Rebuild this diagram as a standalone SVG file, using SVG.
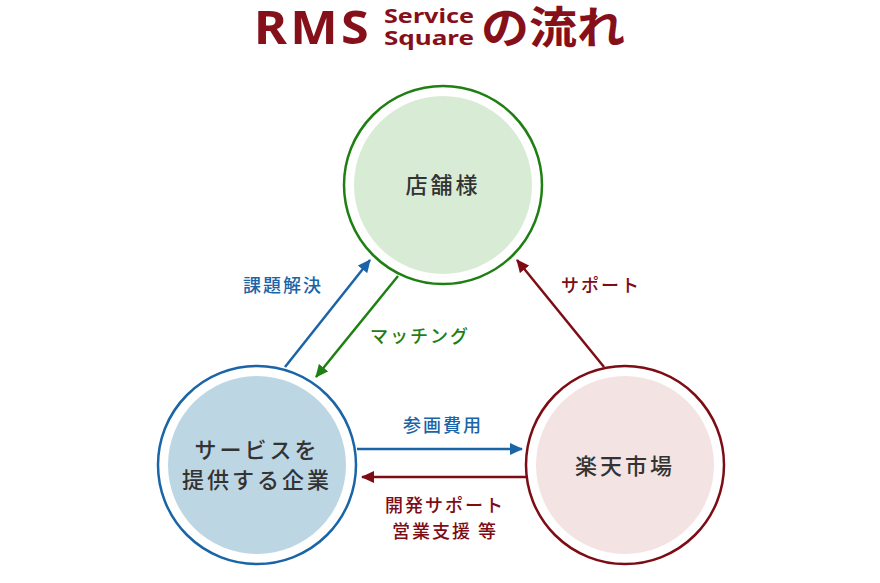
<svg xmlns="http://www.w3.org/2000/svg" width="880" height="583" viewBox="0 0 880 583">
<style>
.t{font-family:"Noto Sans CJK JP","Noto Sans",sans-serif;}
.lbl{font-family:"Noto Sans CJK JP",sans-serif;font-size:18px;font-weight:500;letter-spacing:2px;text-anchor:middle}
.nd{font-family:"Noto Sans CJK JP",sans-serif;font-size:22px;font-weight:500;fill:#333;letter-spacing:3px;text-anchor:middle}
</style>
<defs>
<marker id="ab" markerWidth="13" markerHeight="12" refX="12" refY="6" orient="auto" markerUnits="userSpaceOnUse" viewBox="0 0 13 12"><path d="M0,0L13,6L0,12z" fill="#1a64a8"/></marker>
<marker id="ar" markerWidth="13" markerHeight="12" refX="12" refY="6" orient="auto" markerUnits="userSpaceOnUse" viewBox="0 0 13 12"><path d="M0,0L13,6L0,12z" fill="#7d0c14"/></marker>
<marker id="ag" markerWidth="13" markerHeight="12" refX="12" refY="6" orient="auto" markerUnits="userSpaceOnUse" viewBox="0 0 13 12"><path d="M0,0L13,6L0,12z" fill="#1e8013"/></marker>
</defs>
<rect width="880" height="583" fill="#fff"/>
<g id="title" fill="#86101a">
<text x="254" y="44" font-family="Noto Sans, sans-serif" font-weight="bold" font-size="46" letter-spacing="3" textLength="118" lengthAdjust="spacingAndGlyphs">RMS</text>
<text x="384" y="23" font-family="Noto Sans, sans-serif" font-weight="bold" font-size="20" textLength="90" lengthAdjust="spacingAndGlyphs">Service</text>
<text x="384" y="45" font-family="Noto Sans, sans-serif" font-weight="bold" font-size="20" textLength="90" lengthAdjust="spacingAndGlyphs">Square</text>
<text x="481" y="44" class="t" font-weight="bold" font-size="44" textLength="144" lengthAdjust="spacingAndGlyphs">の流れ</text>
</g>
<g id="connectors" stroke-width="2.5" fill="none">
<line x1="285" y1="367" x2="370" y2="260" stroke="#1a64a8" marker-end="url(#ab)"/>
<line x1="398" y1="276" x2="316" y2="377" stroke="#1e8013" marker-end="url(#ag)"/>
<line x1="604" y1="367" x2="517" y2="260" stroke="#7d0c14" marker-end="url(#ar)"/>
<line x1="357" y1="449" x2="522" y2="449" stroke="#1a64a8" marker-end="url(#ab)"/>
<line x1="526" y1="477" x2="362" y2="477" stroke="#7d0c14" marker-end="url(#ar)"/>
</g>
<g id="labels">
<text class="lbl" x="283" y="292" fill="#1a64a8">課題解決</text>
<text class="lbl" x="420" y="343" fill="#1e8013" font-size="17">マッチング</text>
<text class="lbl" x="601" y="292" fill="#7d0c14">サポート</text>
<text class="lbl" x="443" y="432" fill="#1a64a8">参画費用</text>
<text class="lbl" x="445" y="512" fill="#7d0c14">開発サポート</text>
<text class="lbl" x="445" y="538" fill="#7d0c14">営業支援 等</text>
</g>
<g id="node-shop">
<circle cx="443" cy="185" r="99" fill="#fff" stroke="#1e8013" stroke-width="2.5"/>
<circle cx="443" cy="185" r="89" fill="#d8ecd5"/>
<text class="nd" x="443" y="193">店舗様</text>
</g>
<g id="node-company">
<circle cx="257" cy="465" r="99" fill="#fff" stroke="#1a64a8" stroke-width="2.5"/>
<circle cx="257" cy="465" r="89" fill="#bdd6e4"/>
<text class="nd" x="257" y="458">サービスを</text>
<text class="nd" x="257" y="488">提供する企業</text>
</g>
<g id="node-rakuten">
<circle cx="625" cy="465" r="99" fill="#fff" stroke="#7d0c14" stroke-width="2.5"/>
<circle cx="625" cy="465" r="89" fill="#f4e3e3"/>
<text class="nd" x="625" y="474">楽天市場</text>
</g>
</svg>
